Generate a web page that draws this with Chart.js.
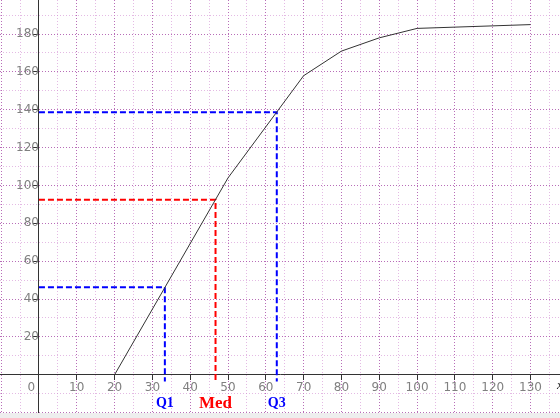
<!DOCTYPE html>
<html>
<head>
<meta charset="utf-8">
<script src="https://cdn.jsdelivr.net/npm/chart.js@4/dist/chart.umd.min.js"></script>
<style>
    html, body { margin: 0; padding: 0; background: #eeeeee; }
    #frame { position: relative; width: 560px; height: 413px; overflow: hidden; background: #ffffff; }
    #holder { position: absolute; left: -10px; top: -10px; width: 580px; height: 433px; }
</style>
</head>
<body>
<div id="frame"><div id="holder"><canvas id="ogive"></canvas></div></div>
<script>
// cumulative frequency curve (ogive)
const classBounds = [20, 50, 70, 80, 90, 100, 130];
const cumFreq = [0, 104, 158, 171, 178, 183, 185];

// quartiles
const quartileNames = ["Q1", "Med", "Q3"];
const quartileX = [33.3, 46.7, 62.9];
const quartileY = [46.25, 92.5, 138.75];
const dropEnd = -3.5;

// axis ranges and labelled ticks
const xMin = -10.3, xMax = 137.8;
const yMin = -20.2, yMax = 198;
const xTickLabels = [0, 10, 20, 30, 40, 50, 60, 70, 80, 90, 100, 110, 120, 130];
const yTickLabels = [20, 40, 60, 80, 100, 120, 140, 160, 180];

const QCOLORS = ["#0000ff", "#ff0000", "#0000ff"];
const GRID_DARK = "rgba(160, 60, 160, 0.75)";
const GRID_LIGHT = "rgba(210, 140, 210, 0.6)";

function gridTicks(from, to, step) {
    const out = [];
    for (let v = from; v <= to; v += step) out.push({ value: v });
    return out;
}

const datasets = [{
    data: classBounds.map((x, i) => ({ x: x, y: cumFreq[i] })),
    showLine: true,
    borderColor: "#333333",
    borderWidth: 1,
    pointRadius: 0
}];

quartileNames.forEach((name, i) => {
    datasets.push({
        label: name,
        data: [
            { x: 0, y: quartileY[i] },
            { x: quartileX[i], y: quartileY[i] },
            { x: quartileX[i], y: dropEnd }
        ],
        showLine: true,
        borderColor: QCOLORS[i],
        borderWidth: 2,
        borderDash: [6, 3],
        pointRadius: 0
    });
});

const quartileLabels = {
    id: "quartileLabels",
    afterDraw(chart) {
        const ctx = chart.ctx;
        const sx = chart.scales.x, sy = chart.scales.y;
        const base = sy.getPixelForValue(0);
        ctx.save();
        ctx.textAlign = "center";
        ctx.textBaseline = "middle";
        quartileNames.forEach((name, i) => {
            ctx.font = name === "Med" ? "bold 17px 'Liberation Serif'" : "bold 14px 'Liberation Serif'";
            ctx.fillStyle = QCOLORS[i];
            ctx.fillText(name, sx.getPixelForValue(quartileX[i]), base + 29);
        });
        ctx.font = "italic 13px 'Liberation Serif'";
        ctx.fillStyle = "#222";
        ctx.textAlign = "left";
        ctx.fillText("x", chart.chartArea.right - 3, base + 11);
        ctx.restore();
    }
};

new Chart(document.getElementById("ogive"), {
    type: "scatter",
    data: { datasets },
    plugins: [quartileLabels],
    options: {
        responsive: true,
        maintainAspectRatio: false,
        animation: false,
        layout: { padding: 10 },
        plugins: { legend: { display: false }, tooltip: { enabled: false } },
        scales: {
            x: {
                type: "linear",
                min: xMin,
                max: xMax,
                position: { y: 0 },
                afterBuildTicks: scale => { scale.ticks = gridTicks(-10, 135, 5); },
                grid: {
                    color: c => (c.tick && c.tick.value % 10 === 0) ? GRID_DARK : GRID_LIGHT,
                    tickColor: c => (c.tick && xTickLabels.includes(c.tick.value)) ? "#333" : "transparent",
                    tickLength: 5
                },
                border: { display: true, color: "#333", width: 1, dash: [1, 2] },
                ticks: {
                    autoSkip: false,
                    maxRotation: 0,
                    padding: 1,
                    color: "#808080",
                    font: { family: "DejaVu Sans", size: 12 },
                    callback: v => v === 0 ? "0    " : (xTickLabels.includes(v) ? String(v) : "")
                }
            },
            y: {
                type: "linear",
                min: yMin,
                max: yMax,
                position: { x: 0 },
                afterBuildTicks: scale => { scale.ticks = gridTicks(-20, 190, 10); },
                grid: {
                    color: c => (c.tick && c.tick.value % 20 === 0) ? GRID_DARK : GRID_LIGHT,
                    tickColor: c => (c.tick && yTickLabels.includes(c.tick.value)) ? "#333" : "transparent",
                    tickLength: 5
                },
                border: { display: true, color: "#333", width: 1, dash: [1, 2] },
                ticks: {
                    autoSkip: false,
                    padding: 0,
                    color: "#808080",
                    font: { family: "DejaVu Sans", size: 12 },
                    callback: v => yTickLabels.includes(v) ? String(v) : ""
                }
            }
        }
    }
});
</script>
</body>
</html>
